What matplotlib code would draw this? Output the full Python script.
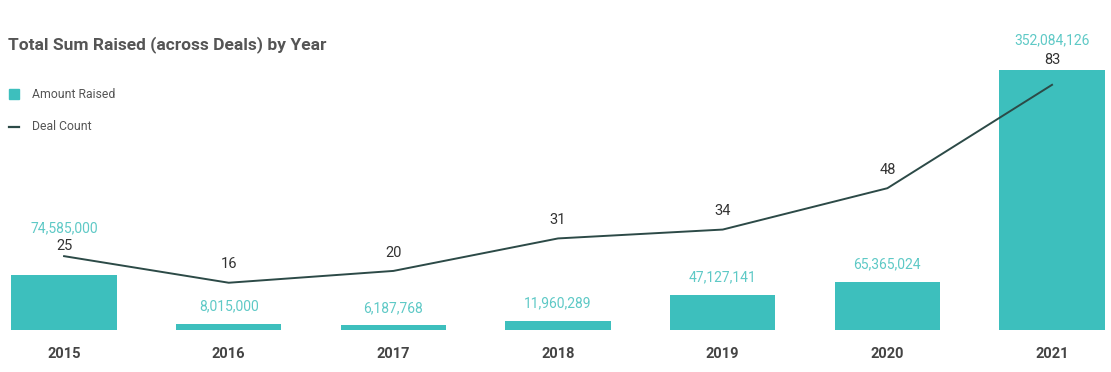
import matplotlib.pyplot as plt
import numpy as np

plt.rcParams["font.family"] = ["Roboto", "DejaVu Sans"]

years = ["2015", "2016", "2017", "2018", "2019", "2020", "2021"]
amount_raised = [74585000, 8015000, 6187768, 11960289, 47127141, 65365024, 352084126]
deal_count = [25, 16, 20, 31, 34, 48, 83]

bar_color = "#3dbfbd"
label_teal = "#5ec9c6"
line_color = "#2c4a47"

fig = plt.figure(figsize=(11.11, 3.72), dpi=100)
ax = fig.add_axes([0.0058, 0.1129, 0.993, 0.7258])
ax2 = ax.twinx()

x = np.arange(len(years))
amount_top = 365.6e6
count_top = 91.4
ax.set_ylim(0, amount_top)
ax2.set_ylim(0, count_top)
ax.set_xlim(-0.35, 6.35)

ax.bar(x, amount_raised, width=0.64, color=bar_color, zorder=1)
ax2.plot(x, deal_count, color=line_color, lw=1.4, zorder=3)

# labels: line count above point, amount above bar unless it collides with the line label
for i in range(len(years)):
    cnt_frac = deal_count[i] / count_top
    bar_frac = amount_raised[i] / amount_top
    cnt_label_frac = cnt_frac + 0.068
    amt_frac = bar_frac + 0.065
    if cnt_label_frac < bar_frac + 0.03:
        # count label would sit inside the bar: lift it above the bar top
        cnt_label_frac = bar_frac + 0.037
        amt_frac = cnt_label_frac + 0.072
    elif abs(amt_frac - cnt_label_frac) < 0.07 or (bar_frac < cnt_frac and amt_frac > cnt_frac - 0.02):
        cnt_label_frac = cnt_frac + 0.037
        amt_frac = cnt_label_frac + 0.067
    ax.text(x[i], cnt_label_frac * amount_top, str(deal_count[i]), ha="center", va="center",
            fontsize=10.5, color="#333333", zorder=5)
    ax.text(x[i], amt_frac * amount_top, f"{amount_raised[i]:,}", ha="center", va="center",
            fontsize=10, color=label_teal, zorder=5)

for a in (ax, ax2):
    for s in a.spines.values():
        s.set_visible(False)
    a.set_yticks([])
ax.set_xticks(x)
ax.set_xticklabels(years, fontsize=10.5, fontweight="bold", color="#444444")
ax.tick_params(axis="x", length=0, pad=12)
ax2.set_zorder(ax.get_zorder() + 1)
ax2.patch.set_visible(False)

fig.text(0.0072, 0.879, "Total Sum Raised (across Deals) by Year", fontsize=12.5,
         fontweight="bold", color="#555555", va="center")

# legend
fig.patches.append(plt.Rectangle((9 / 1111, 1 - 99 / 372), 10 / 1111, 10 / 372,
                                 transform=fig.transFigure, color=bar_color))
fig.text(32 / 1111, 1 - 94 / 372, "Amount Raised", fontsize=8.8, color="#555555", va="center")
fig.lines.append(plt.Line2D([9 / 1111, 19 / 1111], [1 - 127 / 372, 1 - 127 / 372],
                            transform=fig.transFigure, color=line_color, lw=1.6))
fig.text(32 / 1111, 1 - 127 / 372, "Deal Count", fontsize=8.8, color="#555555", va="center")

fig.savefig("out.png", dpi=100)
